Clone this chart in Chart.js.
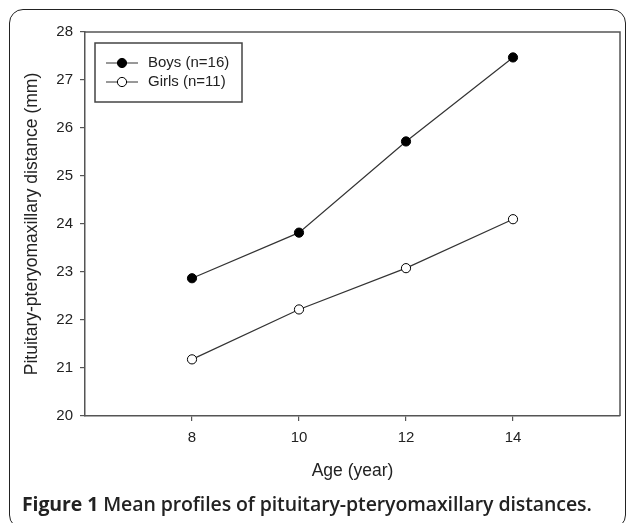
<!DOCTYPE html>
<html>
<head>
<meta charset="utf-8">
<script src="https://cdn.jsdelivr.net/npm/chart.js@4/dist/chart.umd.min.js"></script>
<style>
  html, body { margin: 0; padding: 0; background: #fff; }
  #wrap { position: relative; width: 629px; height: 523px; overflow: hidden; }
  #frame {
    position: absolute; left: 9px; top: 9px; width: 617px; height: 520px;
    border: 1.5px solid #222; border-radius: 14px; box-sizing: border-box;
  }
  canvas { position: absolute; left: 0; top: 0; }
  #caption {
    position: absolute; left: 22px; top: 490px;
    font-family: "Open Sans", sans-serif; font-size: 19.5px; font-weight: 600;
    color: #222; white-space: nowrap; letter-spacing: -0.1px;
  }
  #caption b { font-weight: 700; }
</style>
</head>
<body>
<div id="wrap">
  <div id="frame"></div>
  <canvas id="profileChart" width="629" height="523"></canvas>
  <div id="caption"><b>Figure 1</b> Mean profiles of pituitary-pteryomaxillary distances.</div>
</div>
<script>
// ages (year)
const ages = [8, 10, 12, 14];
const xTicks = [8, 10, 12, 14];
const yTicks = [20, 21, 22, 23, 24, 25, 26, 27, 28];

// mean distance (mm)
const boys = [22.87, 23.82, 25.72, 27.47];
const girls = [21.18, 22.22, 23.08, 24.10];

const seriesNames = ["Boys (n=16)", "Girls (n=11)"];

const FONT = "'Liberation Sans', Arial, sans-serif";

// frame on top & right of plot area
const frameBox = {
  id: "frameBox",
  beforeDatasetsDraw(chart) {
    const { ctx, chartArea: a } = chart;
    ctx.save();
    ctx.strokeStyle = "#555";
    ctx.lineWidth = 1.5;
    ctx.beginPath();
    ctx.moveTo(a.left, a.top);
    ctx.lineTo(a.right, a.top);
    ctx.lineTo(a.right, a.bottom);
    ctx.stroke();
    ctx.restore();
  }
};

// boxed legend inside the plot, line + marker style
const boxLegend = {
  id: "boxLegend",
  afterDraw(chart) {
    const { ctx, chartArea: a } = chart;
    const x0 = a.left + 10, y0 = a.top + 11;
    const w = 147, h = 59;
    ctx.save();
    ctx.fillStyle = "#fff";
    ctx.fillRect(x0, y0, w, h);
    ctx.strokeStyle = "#444";
    ctx.lineWidth = 1.5;
    ctx.strokeRect(x0, y0, w, h);
    chart.data.datasets.forEach((ds, i) => {
      const cy = y0 + 20 + i * 19;
      ctx.strokeStyle = "#333";
      ctx.lineWidth = 1;
      ctx.beginPath();
      ctx.moveTo(x0 + 11, cy);
      ctx.lineTo(x0 + 43, cy);
      ctx.stroke();
      ctx.beginPath();
      ctx.arc(x0 + 27, cy, 4.6, 0, Math.PI * 2);
      ctx.fillStyle = ds.pointBackgroundColor;
      ctx.fill();
      ctx.strokeStyle = "#000";
      ctx.stroke();
      ctx.fillStyle = "#222";
      ctx.font = "15px " + FONT;
      ctx.textBaseline = "middle";
      ctx.fillText(ds.label, x0 + 53, cy);
    });
    ctx.restore();
  }
};

const ctx = document.getElementById("profileChart").getContext("2d");

new Chart(ctx, {
  type: "line",
  data: {
    datasets: [
      {
        label: seriesNames[0],
        data: ages.map((a, i) => ({ x: a, y: boys[i] })),
        borderColor: "#333",
        borderWidth: 1.2,
        pointRadius: 4.6,
        pointBackgroundColor: "#000",
        pointBorderColor: "#000",
        pointBorderWidth: 1,
        tension: 0
      },
      {
        label: seriesNames[1],
        data: ages.map((a, i) => ({ x: a, y: girls[i] })),
        borderColor: "#333",
        borderWidth: 1.2,
        pointRadius: 4.6,
        pointBackgroundColor: "#fff",
        pointBorderColor: "#000",
        pointBorderWidth: 1,
        tension: 0
      }
    ]
  },
  options: {
    responsive: false,
    animation: false,
    layout: { padding: { top: 32, right: 9, left: 0, bottom: 0 } },
    plugins: {
      legend: { display: false },
      tooltip: { enabled: false }
    },
    scales: {
      x: {
        type: "linear",
        min: 6,
        max: 16,
        afterBuildTicks: s => { s.ticks = xTicks.map(v => ({ value: v })); },
        afterFit: s => { s.height = 107; },
        border: { display: true, color: "#555", width: 1.5 },
        grid: { drawOnChartArea: false, drawTicks: true, tickLength: 5, color: "#555", lineWidth: 1.2 },
        ticks: { color: "#222", font: { family: FONT, size: 15 }, padding: 8, maxRotation: 0 },
        title: {
          display: true,
          text: "Age (year)",
          color: "#222",
          font: { family: FONT, size: 17.5 },
          padding: { top: 0, bottom: 41 }
        }
      },
      y: {
        type: "linear",
        min: 20,
        max: 28,
        afterBuildTicks: s => { s.ticks = yTicks.map(v => ({ value: v })); },
        afterFit: s => { s.width = 85; },
        border: { display: true, color: "#555", width: 1.5 },
        grid: { drawOnChartArea: false, drawTicks: true, tickLength: 5, color: "#555", lineWidth: 1.2 },
        ticks: { color: "#222", font: { family: FONT, size: 15 }, padding: 7 },
        title: {
          display: true,
          text: "Pituitary-pteryomaxillary distance (mm)",
          color: "#222",
          font: { family: FONT, size: 17.5 },
          padding: { top: 22, bottom: 0 }
        }
      }
    }
  },
  plugins: [frameBox, boxLegend]
});
</script>
</body>
</html>
